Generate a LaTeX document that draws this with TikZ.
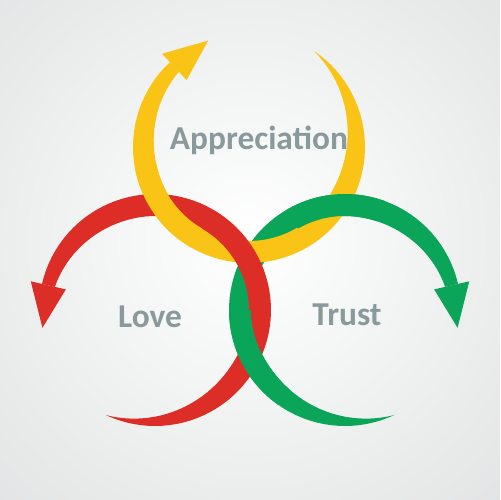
\documentclass[tikz,border=0pt]{standalone}
\usepackage{fontspec}
\setmainfont{Carlito}
\definecolor{ringyellow}{RGB}{250,196,22}
\definecolor{ringred}{RGB}{220,46,39}
\definecolor{ringgreen}{RGB}{10,165,88}
\definecolor{wordgray}{RGB}{138,153,155}
\definecolor{backgray}{RGB}{200,205,205}
\tikzset{every node/.style={font=\bfseries\fontsize{19}{22}\selectfont, text=wordgray, inner sep=0pt, anchor=base}}
\tikzset{ringword/.style={}}

% centre, tail, head, from, to, colour
\newcommand{\ringpart}[6]{
  \begin{scope}[shift={#1}]
   \fill[#6] plot[domain=#4:#5, samples=80] (\x:116)
    -- plot[domain=#5:#4, samples=80]
     (\x:{116-22*sin(min(90,abs(\x-(#2))))*(0.6+0.4*sin(min(90,1.3*abs(\x-(#3)))))})
    -- cycle;
  \end{scope}}
% centre, head, tip, colour
\newcommand{\ringhead}[4]{
  \begin{scope}[shift={#1}]
   \fill[#4] (#2:116) -- (#2:127.5) -- (#3:114) -- (#2:91.5) -- (#2:102.8) -- cycle;
  \end{scope}}

\begin{document}
\begin{tikzpicture}[x=0.02cm, y=0.02cm]
  \useasboundingbox (0,0) rectangle (500,500);
  \begin{scope}
   \clip (0,0) rectangle (500,500);
   \shade[inner color=white, outer color=backgray] (250,260) circle (700);
  \end{scope}
  \ringpart{(345,190)}{295}{13}{295}{13}{ringgreen}
  \ringhead{(345,190)}{13}{-9}{ringgreen}
  \ringpart{(249,353)}{56}{-227}{56}{-227}{ringyellow}
  \ringhead{(249,353)}{-227}{-249}{ringyellow}
  \ringpart{(155,190)}{245}{527}{245}{527}{ringred}
  \ringhead{(155,190)}{527}{549}{ringred}
  \ringpart{(249,353)}{56}{-227}{-170}{-120}{ringyellow}
  \ringpart{(345,190)}{295}{13}{70}{120}{ringgreen}
  \ringpart{(345,190)}{295}{13}{180}{235}{ringgreen}
  \node[ringword] (appreciation) at (259,350) {Appreciation};
  \node[ringword] (love) at (150,172) {Love};
  \node[ringword] (trust) at (347,174) {Trust};
 \end{tikzpicture}
\end{document}
